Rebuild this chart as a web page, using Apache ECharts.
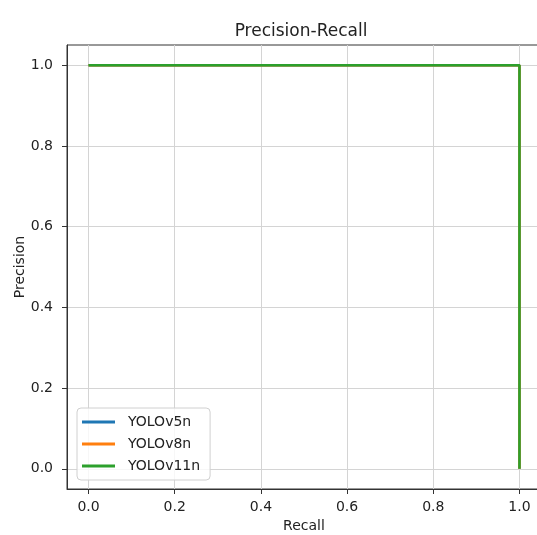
<!DOCTYPE html>
<html>
<head>
<meta charset="utf-8">
<script src="https://cdn.jsdelivr.net/npm/echarts@6/dist/echarts.min.js"></script>
<style>
  html, body { margin: 0; padding: 0; background: #fff; }
  #main { width: 537px; height: 535px; }
</style>
</head>
<body>
<div id="main"></div>
<script>
// PR curve points (recall on x, precision on y)
var recall = [0, 1, 1];
var precisionV5 = [1, 1, 0];
var precisionV8 = [1, 1, 0];
var precisionV11 = [1, 1, 0];
var modelNames = ['YOLOv5n', 'YOLOv8n', 'YOLOv11n'];
var modelColors = ['#1f77b4', '#ff7f0e', '#2ca02c'];
var tickValues = [0, 0.2, 0.4, 0.6, 0.8, 1.0];

var font = 'DejaVu Sans';

function pairs(xs, ys) {
  return xs.map(function (x, i) { return [x, ys[i]]; });
}

var allPrecision = [precisionV5, precisionV8, precisionV11];

var axisMin = -0.05, axisMax = 1.05;

var chart = echarts.init(document.getElementById('main'));
chart.setOption({
  animation: false,
  backgroundColor: '#fff',
  title: {
    text: 'Precision-Recall',
    left: 296,
    top: 18,
    textAlign: 'center',
    textStyle: { fontFamily: font, fontSize: 17, fontWeight: 'normal', color: '#222' }
  },
  legend: {
    orient: 'vertical',
    left: 77,
    top: 408,
    data: modelNames,
    icon: 'rect',
    itemWidth: 33,
    itemHeight: 3,
    itemGap: 8,
    padding: [7, 10, 7, 5],
    backgroundColor: 'rgba(255,255,255,0.8)',
    borderColor: '#d0d0d0',
    borderWidth: 1,
    borderRadius: 4,
    textStyle: { fontFamily: font, fontSize: 14, color: '#222', padding: [0, 0, 0, 8] }
  },
  // the source figure is cut off on the right, so the plot box runs past the canvas
  grid: {
    left: 67,
    top: 45,
    width: 474,
    height: 444,
    show: true,
    borderColor: '#333',
    borderWidth: 1,
    outerBoundsMode: 'none'
  },
  xAxis: {
    type: 'value',
    min: axisMin,
    max: axisMax,
    name: 'Recall',
    nameLocation: 'middle',
    nameGap: 30,
    nameMoveOverlap: false,
    nameTextStyle: { fontFamily: font, fontSize: 14, color: '#222' },
    axisLine: { show: true, onZero: false, lineStyle: { color: '#333' } },
    axisTick: { show: true, length: 5, customValues: tickValues, lineStyle: { color: '#333' } },
    axisLabel: {
      customValues: tickValues,
      margin: 11,
      fontFamily: font, fontSize: 14, color: '#222',
      formatter: function (v) { return v.toFixed(1); }
    },
    splitLine: { show: true, lineStyle: { color: '#d4d4d4', width: 1 } }
  },
  yAxis: {
    type: 'value',
    min: axisMin,
    max: axisMax,
    name: 'Precision',
    nameLocation: 'middle',
    nameGap: 40,
    nameMoveOverlap: false,
    nameTextStyle: { fontFamily: font, fontSize: 14, color: '#222' },
    axisLine: { show: true, onZero: false, lineStyle: { color: '#333' } },
    axisTick: { show: true, length: 5, customValues: tickValues, lineStyle: { color: '#333' } },
    axisLabel: {
      customValues: tickValues,
      margin: 14,
      fontFamily: font, fontSize: 14, color: '#222',
      formatter: function (v) { return v.toFixed(1); }
    },
    splitLine: { show: true, lineStyle: { color: '#d4d4d4', width: 1 } }
  },
  series: modelNames.map(function (name, i) {
    return {
      name: name,
      type: 'line',
      data: pairs(recall, allPrecision[i]),
      showSymbol: false,
      symbol: 'none',
      color: modelColors[i],
      lineStyle: { width: 2.5, color: modelColors[i] }
    };
  })
});
</script>
</body>
</html>
